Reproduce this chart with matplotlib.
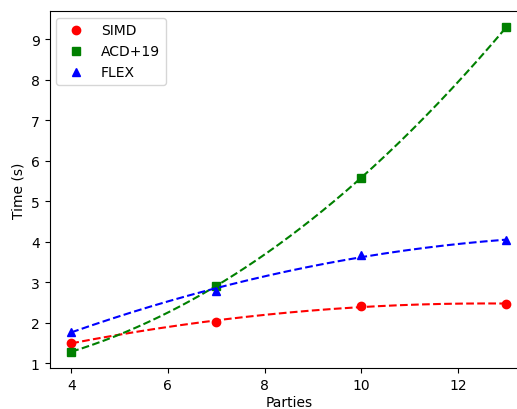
import numpy as np
import matplotlib
matplotlib.use("Agg")
import matplotlib.pyplot as plt

parties = [4, 7, 10, 13]
simd = [1.50, 2.02, 2.42, 2.46]
acd19 = [1.28, 2.91, 5.58, 9.30]
flex = [1.78, 2.79, 3.68, 4.03]

fig, ax = plt.subplots(figsize=(5.17, 4.10), dpi=100)
# the original was cropped on the right, so the axes run past the figure edge
fig.subplots_adjust(left=49.5 / 517, right=528 / 517, top=1 - 12 / 410, bottom=1 - 369 / 410)

xs = np.linspace(min(parties), max(parties), 200)
series = [
    ("SIMD", simd, "r", "o"),
    ("ACD+19", acd19, "g", "s"),
    ("FLEX", flex, "b", "^"),
]
for label, vals, col, mk in series:
    ax.plot(parties, vals, mk, color=col, label=label)
    # quadratic trend through the points
    coef = np.polyfit(parties, vals, 2)
    ax.plot(xs, np.polyval(coef, xs), "--", color=col)

ax.set_xlabel("Parties", labelpad=2.5)
ax.set_ylabel("Time (s)")
ax.legend(loc="upper left")

plt.savefig("out.png")
